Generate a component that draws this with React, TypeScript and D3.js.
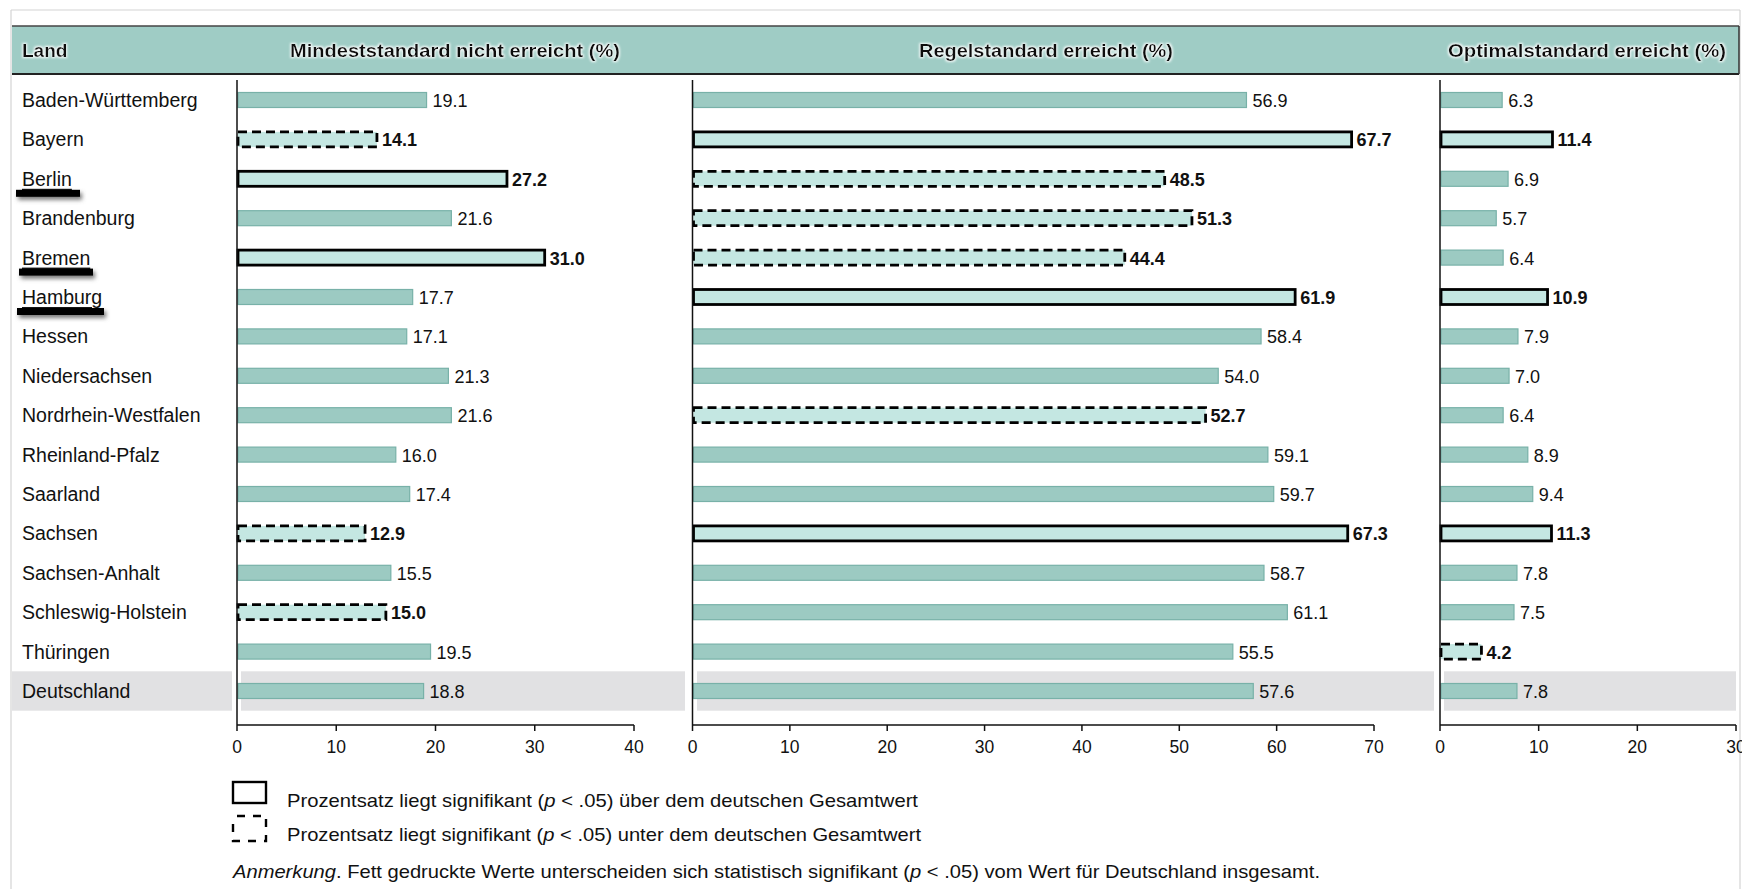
import React from "react";
import * as d3 from "d3";

const countries = [
  "Baden-Württemberg", "Bayern", "Berlin", "Brandenburg", "Bremen", "Hamburg", "Hessen",
  "Niedersachsen", "Nordrhein-Westfalen", "Rheinland-Pfalz", "Saarland", "Sachsen",
  "Sachsen-Anhalt", "Schleswig-Holstein", "Thüringen", "Deutschland",
];
const underlined = ["Berlin", "Bremen", "Hamburg"];

const mindestValues = [19.1, 14.1, 27.2, 21.6, 31.0, 17.7, 17.1, 21.3, 21.6, 16.0, 17.4, 12.9, 15.5, 15.0, 19.5, 18.8];
const mindestSig = [0, -1, 1, 0, 1, 0, 0, 0, 0, 0, 0, -1, 0, -1, 0, 0];
const regelValues = [56.9, 67.7, 48.5, 51.3, 44.4, 61.9, 58.4, 54.0, 52.7, 59.1, 59.7, 67.3, 58.7, 61.1, 55.5, 57.6];
const regelSig = [0, 1, -1, -1, -1, 1, 0, 0, -1, 0, 0, 1, 0, 0, 0, 0];
const optimalValues = [6.3, 11.4, 6.9, 5.7, 6.4, 10.9, 7.9, 7.0, 6.4, 8.9, 9.4, 11.3, 7.8, 7.5, 4.2, 7.8];
const optimalSig = [0, 1, 0, 0, 0, 1, 0, 0, 0, 0, 0, 1, 0, 0, -1, 0];

const mindestTicks = [0, 10, 20, 30, 40];
const regelTicks = [0, 10, 20, 30, 40, 50, 60, 70];
const optimalTicks = [0, 10, 20, 30];

const headerLand = "Land";
const legendAbove = "über dem deutschen Gesamtwert";
const legendBelow = "unter dem deutschen Gesamtwert";

const W = 1742;
const H = 889;
const FONT = "'Liberation Sans', Arial, Helvetica, sans-serif";

const panels = [
  { title: "Mindeststandard nicht erreicht (%)", values: mindestValues, sig: mindestSig, domain: [0, 40], range: [237, 634], ticks: mindestTicks, titleX: 455, titleW: 330, bandL: 241, bandR: 685 },
  { title: "Regelstandard erreicht (%)", values: regelValues, sig: regelSig, domain: [0, 70], range: [692.5, 1374], ticks: regelTicks, titleX: 1046, titleW: 254, bandL: 697, bandR: 1434 },
  { title: "Optimalstandard erreicht (%)", values: optimalValues, sig: optimalSig, domain: [0, 30], range: [1440, 1736], ticks: optimalTicks, titleX: 1587, titleW: 278, bandL: 1444, bandR: 1736 },
];

const y = d3.scaleBand<string>().domain(countries).range([80.3, 710.7]).padding(0);
const axisY = 725;
const axisTop = 80;
const barH = 15;

export default function App() {
  const de = countries[countries.length - 1];
  const deY = y(de)!;
  return (
    <svg width={W} height={H} style={{ position: "absolute", left: 0, top: 0, background: "#fff" }} fontFamily={FONT}>
      <defs>
        <filter id="sh" x="-20%" y="-100%" width="140%" height="400%">
          <feGaussianBlur stdDeviation="2" />
        </filter>
        <filter id="glow" x="-5%" y="-20%" width="110%" height="140%">
          <feMorphology operator="dilate" radius="1" in="SourceAlpha" result="d" />
          <feGaussianBlur in="d" stdDeviation="1" result="b" />
          <feFlood floodColor="#ffffff" floodOpacity="0.9" />
          <feComposite in2="b" operator="in" result="w" />
          <feMerge>
            <feMergeNode in="w" />
            <feMergeNode in="SourceGraphic" />
          </feMerge>
        </filter>
      </defs>
      {/* outer frame */}
      <line x1={11} x2={1740} y1={10} y2={10} stroke="#d4d4d4" strokeWidth={1.2} />
      <line x1={11} x2={11} y1={10} y2={H} stroke="#d4d4d4" strokeWidth={1.2} />
      <line x1={1740} x2={1740} y1={10} y2={H} stroke="#d4d4d4" strokeWidth={1.2} />

      {/* header band */}
      <rect x={12} y={26} width={1727} height={48} fill="#9fccc5" />
      <line x1={12} x2={1739} y1={26} y2={26} stroke="#444" strokeWidth={1.5} />
      <line x1={12} x2={1739} y1={74} y2={74} stroke="#222" strokeWidth={2.2} />
      <line x1={1739} x2={1739} y1={26} y2={74} stroke="#333" strokeWidth={1.5} />
      <g filter="url(#glow)">
        <text x={22} y={50} dominantBaseline="central" fontWeight="bold" fontSize={19} fill="#111">{headerLand}</text>
        {panels.map((p) => (
          <text key={p.title} x={p.titleX} y={50} dominantBaseline="central" textAnchor="middle" fontWeight="bold" fontSize={19} fill="#111" textLength={p.titleW} lengthAdjust="spacingAndGlyphs">{p.title}</text>
        ))}
      </g>

      {/* Deutschland band */}
      <rect x={12} y={deY} width={220} height={y.bandwidth()} fill="#e1e1e3" />
      {panels.map((p) => (
        <rect key={"band" + p.title} x={p.bandL} y={deY} width={p.bandR - p.bandL} height={y.bandwidth()} fill="#e1e1e3" />
      ))}

      {/* row labels */}
      {countries.map((c) => {
        const cy = y(c)! + y.bandwidth() / 2;
        const ul = underlined.includes(c);
        return (
          <g key={c}>
            <text x={22} y={cy} dominantBaseline="central" fontSize={19.5} fill="#111" textDecoration={ul ? "underline" : undefined}>{c}</text>
          </g>
        );
      })}
      {/* redaction marks */}
      {[
        { c: "Berlin", x1: 16, x2: 80 },
        { c: "Bremen", x1: 19, x2: 93 },
        { c: "Hamburg", x1: 17, x2: 104 },
      ].map((m) => {
        const cy = y(m.c)! + y.bandwidth() / 2 + 11;
        return (
          <g key={"m" + m.c}>
            <rect x={m.x1 + 2} y={cy + 3} width={m.x2 - m.x1} height={7} fill="#777" filter="url(#sh)" />
            <rect x={m.x1} y={cy} width={m.x2 - m.x1} height={7} fill="#000" />
          </g>
        );
      })}

      {panels.map((p) => {
        const x = d3.scaleLinear().domain(p.domain).range(p.range);
        return (
          <g key={"p" + p.title}>
            {countries.map((c, i) => {
              const v = p.values[i];
              const s = p.sig[i];
              const cy = y(c)! + y.bandwidth() / 2;
              const x0 = x(0) + 1;
              const x1 = x(v);
              return (
                <g key={c}>
                  {s === 0 ? (
                    <rect x={x0} y={cy - barH / 2} width={x1 - x0} height={barH} fill="#9ccac2" stroke="#78b1a8" strokeWidth={1.2} />
                  ) : (
                    <rect x={x0} y={cy - barH / 2} width={x1 - x0} height={barH} fill="#c4e7e2" stroke="#000" strokeWidth={2.8} strokeDasharray={s < 0 ? "9,5" : undefined} />
                  )}
                  <text x={x1 + (s === 0 ? 6 : 5)} y={cy + 1} dominantBaseline="central" fontSize={18} fontWeight={s === 0 ? "normal" : "bold"} fill="#111">{d3.format(".1f")(v)}</text>
                </g>
              );
            })}
            {/* axes */}
            <line x1={x(0)} x2={x(0)} y1={axisTop} y2={axisY} stroke="#111" strokeWidth={1.5} />
            <line x1={x(0)} x2={x(p.domain[1])} y1={axisY} y2={axisY} stroke="#111" strokeWidth={1.5} />
            {p.ticks.map((t) => (
              <g key={t}>
                <line x1={x(t)} x2={x(t)} y1={axisY} y2={axisY + 6} stroke="#111" strokeWidth={1.5} />
                <text x={x(t)} y={axisY + 22} textAnchor="middle" dominantBaseline="central" fontSize={17.5} fill="#111">{t}</text>
              </g>
            ))}
          </g>
        );
      })}

      {/* legend */}
      <rect x={233} y={782} width={33} height={21} fill="none" stroke="#000" strokeWidth={2.4} />
      <text x={287} y={800} dominantBaseline="central" fontSize={18.5} fill="#111" textLength={631} lengthAdjust="spacingAndGlyphs">
        Prozentsatz liegt signifikant (<tspan fontStyle="italic">p</tspan> &lt; .05) {legendAbove}
      </text>
      <rect x={233} y={816} width={33} height={25} fill="none" stroke="#000" strokeWidth={2.4} strokeDasharray="8,8" strokeDashoffset={-4} />
      <text x={287} y={834} dominantBaseline="central" fontSize={18.5} fill="#111" textLength={634} lengthAdjust="spacingAndGlyphs">
        Prozentsatz liegt signifikant (<tspan fontStyle="italic">p</tspan> &lt; .05) {legendBelow}
      </text>
      <text x={233} y={871} dominantBaseline="central" fontSize={18.5} fill="#111" textLength={1087} lengthAdjust="spacingAndGlyphs">
        <tspan fontStyle="italic">Anmerkung</tspan>. Fett gedruckte Werte unterscheiden sich statistisch signifikant (<tspan fontStyle="italic">p</tspan> &lt; .05) vom Wert für Deutschland insgesamt.
      </text>
    </svg>
  );
}
